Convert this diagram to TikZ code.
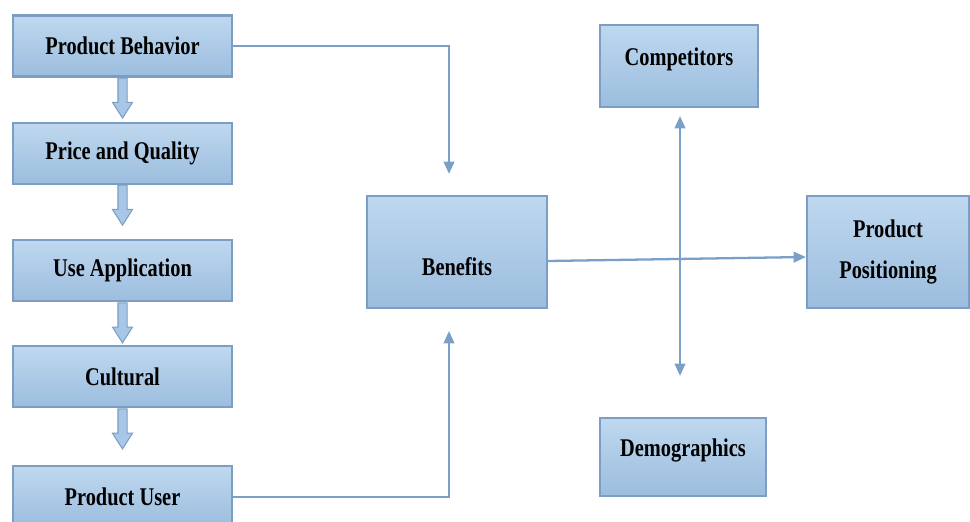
\documentclass[tikz,border=0pt]{standalone}
\usepackage{fontspec}
\setmainfont{Liberation Serif}[FakeStretch=0.8]
\usetikzlibrary{positioning,arrows.meta,shapes.arrows}

\definecolor{boxtop}{RGB}{190,216,239}
\definecolor{boxbot}{RGB}{156,189,222}
\definecolor{boxline}{RGB}{124,157,196}
\definecolor{linkcol}{RGB}{122,160,200}
\definecolor{arrfill}{RGB}{168,199,231}

\begin{document}
\begin{tikzpicture}
  [>={Triangle[width=6pt,length=7pt]},
    box/.style={%
      rectangle, draw=boxline, line width=1.2pt,
      top color=boxtop, bottom color=boxbot,
      font=\fontsize{14.5}{17}\selectfont\bfseries,
      minimum width=4.38cm, minimum height=1.22cm, align=center
    },
    downarr/.style={%
      single arrow, draw=boxline, fill=arrfill, line width=0.6pt,
      shape border rotate=270, inner sep=0.08cm,
      minimum height=0.8cm, single arrow head extend=0.11cm,
      single arrow tip angle=65, anchor=tail
    },
    link/.style={->, draw=linkcol, line width=1.3pt},
  ]
  \useasboundingbox (0,0) rectangle (19.4,10.42);

  \node[box] (pb) at (2.45,9.5) {Product Behavior};
  \node[box] (pq) [below=0.88cm of pb] {Price and Quality};
  \node[box] (ua) [below=1.09cm of pq] {Use Application};
  \node[box] (cu) [below=0.86cm of ua] {Cultural};
  \node[box] (pu) [below=1.14cm of cu] {Product User};

  \node[box, minimum width=3.6cm, minimum height=2.24cm,
        text height=1.0cm, text depth=0.04cm] (ben) at (9.14,5.38) {Benefits};
  \node[box, minimum width=3.16cm, minimum height=1.64cm,
        text height=0.3cm, text depth=0.3cm] (comp) at (13.58,9.1) {Competitors};
  \node[box, minimum width=3.32cm, minimum height=1.56cm,
        text height=0.3cm, text depth=0.3cm] (dem) at (13.66,1.28) {Demographics};
  \node[box, minimum width=3.24cm, minimum height=2.24cm] (pp) at (17.76,5.38)
        {Product\\[6pt]Positioning};

  \foreach \a/\n in {pb/1,pq/2,ua/3,cu/4}
    \node[downarr] (arr\n) at (\a.south) {};

  \coordinate (bentop) at ([xshift=-0.16cm,yshift=0.42cm]ben.north);
  \coordinate (benbot) at ([xshift=-0.16cm,yshift=-0.44cm]ben.south);
  \coordinate (vtop) at ([xshift=0.02cm,yshift=-0.16cm]comp.south);
  \coordinate (vbot) at ([xshift=-0.06cm,yshift=0.82cm]dem.north);

  \draw[link] (pb.east) -| (bentop);
  \draw[link] (pu.east) -| (benbot);
  \draw[link] ([yshift=-0.18cm]ben.east) -- ([yshift=-0.1cm]pp.west);
  \draw[link, <->] (vtop) -- (vbot);

\end{tikzpicture}
\end{document}
